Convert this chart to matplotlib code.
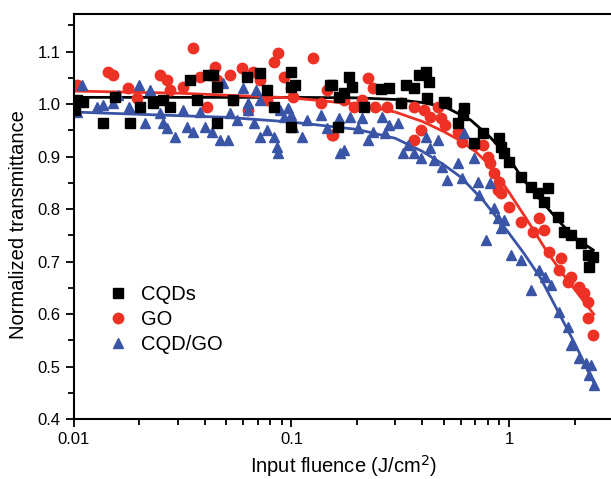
import numpy as np
import matplotlib
matplotlib.use("Agg")
import matplotlib.pyplot as plt
from matplotlib.ticker import LogLocator, FixedLocator, NullFormatter, FuncFormatter

plt.rcParams["font.family"] = ["Liberation Sans", "DejaVu Sans"]

# ---- scatter data ----
cqd_x = [0.0101, 0.0103, 0.011, 0.0136, 0.0154, 0.0181, 0.0201, 0.0231, 0.0257, 0.0277,
         0.0343, 0.0369, 0.0415, 0.0437, 0.0456, 0.0456, 0.054, 0.0627, 0.0719, 0.0775,
         0.083, 0.099, 0.099, 0.099, 0.104, 0.151, 0.154, 0.163, 0.165, 0.174,
         0.183, 0.19, 0.215, 0.257, 0.28, 0.318, 0.335, 0.365, 0.385, 0.415,
         0.42, 0.43, 0.50, 0.513, 0.582, 0.614, 0.62, 0.69, 0.759, 0.899,
         0.919, 0.949, 1.0, 1.136, 1.263, 1.36, 1.45, 1.51, 1.68, 1.79,
         1.93, 2.15, 2.31, 2.33, 2.44]
cqd_y = [0.989, 1.008, 1.004, 0.964, 1.013, 0.964, 0.994, 1.002, 1.008, 0.994,
         1.046, 1.008, 1.055, 1.055, 1.032, 0.964, 1.008, 1.051, 1.059, 1.027,
         0.994, 1.061, 1.032, 0.956, 1.036, 1.036, 1.036, 0.956, 1.013, 1.021,
         1.051, 1.032, 0.994, 1.029, 1.030, 1.002, 1.036, 1.030, 1.055, 1.061,
         1.011, 1.042, 1.004, 1.002, 0.964, 0.979, 0.992, 0.926, 0.945, 0.935,
         0.918, 0.907, 0.890, 0.861, 0.842, 0.830, 0.813, 0.840, 0.785, 0.756,
         0.750, 0.735, 0.712, 0.690, 0.709]

go_x = [0.0103, 0.0143, 0.0151, 0.0177, 0.0195, 0.0249, 0.0268, 0.0277, 0.0318, 0.0353,
        0.038, 0.041, 0.0447, 0.0456, 0.0524, 0.054, 0.0594, 0.063, 0.0668, 0.0719,
        0.0775, 0.083, 0.087, 0.092, 0.099, 0.102, 0.125, 0.136, 0.146, 0.154,
        0.156, 0.174, 0.193, 0.212, 0.224, 0.236, 0.243, 0.276, 0.318, 0.365,
        0.365, 0.393, 0.406, 0.435, 0.47, 0.485, 0.51, 0.582, 0.61, 0.69,
        0.76, 0.80, 0.82, 0.85, 0.89, 0.90, 0.92, 1.0, 1.136, 1.29,
        1.37, 1.45, 1.53, 1.70, 1.74, 1.87, 1.93, 2.1, 2.2, 2.31,
        2.31, 2.44]
go_y = [1.036, 1.061, 1.055, 1.030, 1.011, 1.055, 1.046, 1.027, 1.032, 1.107,
        1.051, 0.994, 1.070, 1.046, 1.055, 1.008, 1.069, 0.989, 1.061, 1.046,
        1.008, 1.080, 1.097, 1.051, 1.030, 1.013, 1.088, 1.002, 1.027, 0.941,
        0.941, 1.008, 0.994, 1.008, 1.050, 1.030, 0.994, 0.994, 1.002, 0.994,
        0.931, 0.950, 0.989, 0.975, 0.994, 0.973, 0.960, 0.947, 0.928, 0.922,
        0.922, 0.899, 0.888, 0.869, 0.836, 0.851, 0.830, 0.804, 0.775, 0.756,
        0.783, 0.760, 0.718, 0.684, 0.707, 0.661, 0.670, 0.651, 0.640, 0.623,
        0.592, 0.560]

cqdgo_x = [0.0103, 0.0109, 0.0128, 0.0136, 0.0151, 0.016, 0.018, 0.020, 0.0213, 0.0224,
           0.0249, 0.0257, 0.0268, 0.029, 0.0318, 0.033, 0.0353, 0.038, 0.040, 0.0432,
           0.047, 0.0485, 0.051, 0.0524, 0.056, 0.060, 0.063, 0.063, 0.067, 0.069,
           0.072, 0.072, 0.0775, 0.083, 0.083, 0.086, 0.087, 0.089, 0.092, 0.096,
           0.099, 0.102, 0.112, 0.118, 0.136, 0.146, 0.165, 0.168, 0.174, 0.186,
           0.203, 0.212, 0.224, 0.238, 0.262, 0.27, 0.28, 0.308, 0.325, 0.343,
           0.365, 0.393, 0.415, 0.435, 0.452, 0.47, 0.49, 0.52, 0.58, 0.61,
           0.62, 0.69, 0.72, 0.73, 0.78, 0.82, 0.85, 0.89, 0.92, 0.95,
           1.02, 1.13, 1.26, 1.37, 1.47, 1.56, 1.70, 1.87, 1.93, 2.1,
           2.25, 2.33, 2.38, 2.45]
cqdgo_y = [0.985, 1.036, 0.994, 0.998, 1.002, 1.017, 0.994, 1.036, 0.964, 1.027,
           0.983, 0.964, 0.954, 0.937, 0.989, 0.956, 0.947, 0.985, 0.956, 0.947,
           0.931, 1.040, 0.931, 0.983, 0.970, 1.030, 0.989, 1.002, 0.964, 1.027,
           0.937, 1.008, 0.950, 0.937, 0.994, 0.918, 0.907, 0.989, 0.975, 0.992,
           0.979, 0.956, 0.937, 0.970, 0.979, 0.954, 0.973, 0.907, 0.912, 0.975,
           0.954, 0.973, 0.931, 0.947, 0.975, 0.945, 0.960, 0.964, 0.907, 0.922,
           0.907, 0.897, 0.937, 0.916, 0.893, 0.931, 0.880, 0.855, 0.888, 0.859,
           0.945, 0.897, 0.851, 0.827, 0.741, 0.849, 0.802, 0.783, 0.764, 0.779,
           0.712, 0.703, 0.646, 0.684, 0.670, 0.655, 0.604, 0.575, 0.541, 0.516,
           0.507, 0.484, 0.503, 0.465]

# ---- fitted curves ----
fit_cqd_x = [0.01, 0.05, 0.1, 0.2, 0.3, 0.4, 0.513, 0.665, 0.82, 0.99, 1.17, 1.4, 1.68, 1.98, 2.44]
fit_cqd_y = [1.013, 1.013, 1.013, 1.012, 1.009, 1.003, 0.994, 0.970, 0.937, 0.899, 0.855, 0.817, 0.779, 0.747, 0.722]
fit_go_x = [0.01, 0.03, 0.1, 0.2, 0.3, 0.4, 0.5, 0.6, 0.7, 0.8, 0.9, 1.0, 1.2, 1.5, 1.8, 2.1, 2.45]
fit_go_y = [1.025, 1.021, 1.012, 1.000, 0.985, 0.967, 0.948, 0.930, 0.910, 0.887, 0.860, 0.832, 0.782, 0.718, 0.672, 0.636, 0.600]
fit_cqdgo_x = [0.01, 0.05, 0.1, 0.2, 0.3, 0.4, 0.5, 0.6, 0.76, 1.0, 1.17, 1.4, 1.68, 2.0, 2.45]
fit_cqdgo_y = [0.985, 0.975, 0.966, 0.952, 0.935, 0.910, 0.885, 0.861, 0.817, 0.754, 0.716, 0.668, 0.605, 0.545, 0.470]

BLACK = "#000000"
RED = "#EE3125"
BLUE = "#3A55A6"

fig = plt.figure(figsize=(6.11, 4.79), dpi=100)
ax = fig.add_axes([0.121, 0.125, 0.882, 0.846])

ax.plot(fit_cqd_x, fit_cqd_y, color=BLACK, lw=2, zorder=1)
ax.plot(fit_go_x, fit_go_y, color=RED, lw=2, zorder=1)
ax.plot(fit_cqdgo_x, fit_cqdgo_y, color=BLUE, lw=2, zorder=1)

ax.plot(cqd_x, cqd_y, ls="none", marker="s", ms=6.5, color=BLACK, label="CQDs", zorder=3)
ax.plot(go_x, go_y, ls="none", marker="o", ms=7.5, color=RED, mec=RED, label="GO", zorder=2)
ax.plot(cqdgo_x, cqdgo_y, ls="none", marker="^", ms=7.5, color=BLUE, mec=BLUE, label="CQD/GO", zorder=2)

ax.set_xscale("log")
ax.set_xlim(0.01, 3.0)
ax.set_ylim(0.4, 1.172)
ax.xaxis.set_major_locator(FixedLocator([0.01, 0.1, 1]))
ax.xaxis.set_major_formatter(FuncFormatter(lambda v, p: f"{v:g}"))
ax.xaxis.set_minor_locator(LogLocator(base=10, subs=np.arange(2, 10)))
ax.xaxis.set_minor_formatter(NullFormatter())
ax.set_yticks(np.arange(0.4, 1.11, 0.1))
ax.set_yticks(np.arange(0.45, 1.17, 0.1), minor=True)
ax.yaxis.set_major_formatter(FuncFormatter(lambda v, p: f"{v:.1f}"))

ax.tick_params(which="both", direction="out", width=1.3, labelsize=12)
ax.tick_params(which="major", length=6)
ax.tick_params(which="minor", length=4)
for s in ax.spines.values():
    s.set_linewidth(1.5)
ax.spines["right"].set_visible(False)

ax.set_xlabel("Input fluence (J/cm$^2$)", fontsize=14.5, labelpad=4)
ax.set_ylabel("Normalized transmittance", fontsize=14.5)
ax.yaxis.set_label_coords(-0.085, 0.48)

ax.legend(loc="lower left", bbox_to_anchor=(0.02, 0.115), frameon=False, fontsize=14.5,
          handletextpad=0.4, labelspacing=0.3, handlelength=1.5)

fig.savefig("out.png", dpi=100)
